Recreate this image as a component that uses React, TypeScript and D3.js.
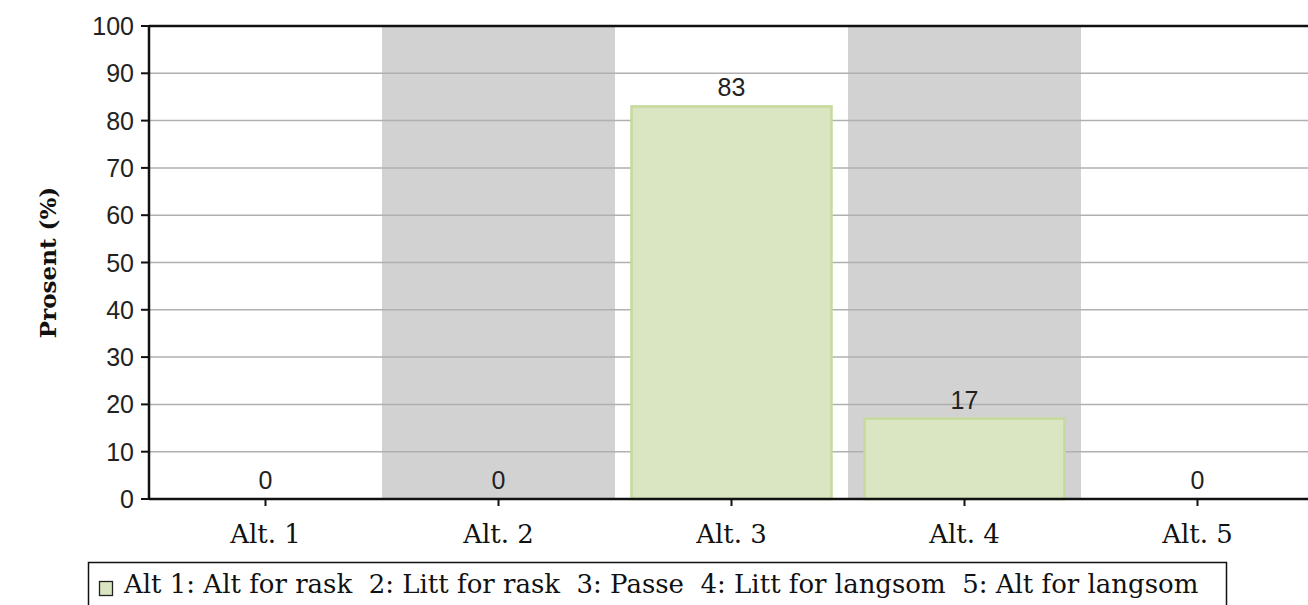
import React from "react";
import * as d3 from "d3";

const categories = ["Alt. 1", "Alt. 2", "Alt. 3", "Alt. 4", "Alt. 5"];
const values = [0, 0, 83, 17, 0];
const yTicks = [0, 10, 20, 30, 40, 50, 60, 70, 80, 90, 100];
const legendText = "Alt 1: Alt for rask  2: Litt for rask  3: Passe  4: Litt for langsom  5: Alt for langsom";
const yLabel = "Prosent (%)";

export default function App() {
  const W = 1308, H = 605;
  const left = 149, top = 26, bottom = 499;
  const bandW = 233;
  const x = d3.scaleBand<string>().domain(categories).range([left, left + bandW * categories.length]).paddingInner(0).paddingOuter(0);
  const y = d3.scaleLinear().domain([0, 100]).range([bottom, top]);
  const barW = 200;
  const sans = "'Liberation Sans', Arial, sans-serif";
  const serif = "'DejaVu Serif', serif";
  return (
    <div style={{ position: "absolute", left: 0, top: 0 }}>
      <svg width={W} height={H} style={{ display: "block", background: "#fff" }}>
        {categories.map((c, i) =>
          i % 2 === 1 ? (
            <rect key={"band" + c} x={x(c)!} y={top} width={x.bandwidth()} height={bottom - top} fill="#d2d2d2" />
          ) : null
        )}
        {yTicks.filter((t) => t > 0 && t < 100).map((t) => (
          <line key={"g" + t} x1={left} x2={W} y1={y(t)} y2={y(t)} stroke="#b0b0b0" strokeWidth={1.5} />
        ))}
        {categories.map((c, i) => {
          const cx = x(c)! + x.bandwidth() / 2;
          const v = values[i];
          return (
            <g key={"bar" + c}>
              {v > 0 && (
                <rect x={cx - barW / 2} y={y(v)} width={barW} height={bottom - y(v)} fill="#dae5c1" stroke="#c6da9e" strokeWidth={2.5} />
              )}
              <text x={cx} y={y(v) - 10} textAnchor="middle" fontFamily={sans} fontSize={25} fill="#222">{v}</text>
            </g>
          );
        })}
        <line x1={left} x2={W} y1={top} y2={top} stroke="#111" strokeWidth={2.5} />
        <line x1={left} x2={W} y1={bottom} y2={bottom} stroke="#111" strokeWidth={2.5} />
        <line x1={left} x2={left} y1={top - 1} y2={bottom + 1} stroke="#111" strokeWidth={2.5} />
        {yTicks.map((t) => (
          <g key={"yt" + t}>
            <line x1={left - 8} x2={left} y1={y(t)} y2={y(t)} stroke="#111" strokeWidth={2} />
            <text x={left - 15} y={y(t) + 9} textAnchor="end" fontFamily={sans} fontSize={25} fill="#222">{t}</text>
          </g>
        ))}
        {categories.map((c) => {
          const cx = x(c)! + x.bandwidth() / 2;
          return (
            <g key={"xt" + c}>
              <line x1={cx} x2={cx} y1={bottom} y2={bottom + 7} stroke="#111" strokeWidth={2} />
              <text x={cx} y={543} textAnchor="middle" fontFamily={serif} fontSize={26} fill="#111">{c}</text>
            </g>
          );
        })}
        <text transform={`translate(56, ${(top + bottom) / 2}) rotate(-90)`} textAnchor="middle" fontFamily={serif} fontWeight="bold" fontSize={23} fill="#111">{yLabel}</text>
        <rect x={88.5} y={562.5} width={1138} height={60} fill="#fff" stroke="#111" strokeWidth={1.5} />
        <rect x={99.5} y={581.5} width={13} height={14} fill="#dae5c1" stroke="#222" strokeWidth={1.3} />
        <text x={124} y={593} fontFamily={serif} fontSize={26} fill="#111" style={{ whiteSpace: "pre" }}>{legendText}</text>
      </svg>
    </div>
  );
}
